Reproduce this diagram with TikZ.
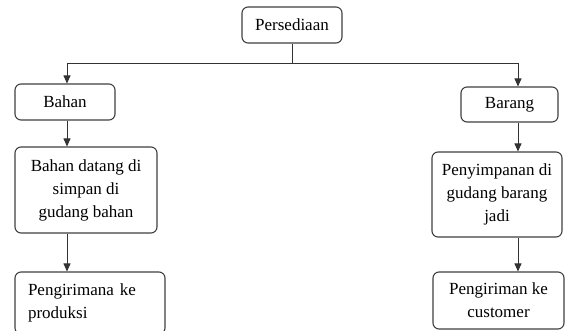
\documentclass[tikz,border=0pt]{standalone}
\usepackage{fontspec}
\setmainfont{Liberation Serif}
\usetikzlibrary{arrows.meta}
\begin{document}
\begin{tikzpicture}[x=1pt,y=-1pt,
  box/.style={draw=black!75, line width=1.1pt, rounded corners=6pt, fill=white,
    font=\fontsize{17}{23}\selectfont, inner sep=0pt},
  conn/.style={draw=black!80, line width=0.9pt},
  arr/.style={conn, -{Triangle[length=8pt,width=7pt]}}]
\clip (0,0) rectangle (565,331);
\fill[white] (0,0) rectangle (565,331);
\node[box, minimum width=100pt, minimum height=36pt] (p) at (292,25) {Persediaan};
\node[box, minimum width=100pt, minimum height=36pt] (bahan) at (65,102) {Bahan};
\node[box, minimum width=142pt, minimum height=86pt, align=center] (bd) at (86,190)
  {Bahan datang di\\simpan di\\gudang bahan};
\node[box, minimum width=150pt, minimum height=62pt, align=left, text width=124pt] (pk) at (90,303)
  {Pengirimana\hspace{6pt}ke\\produksi};
\node[box, minimum width=97pt, minimum height=35pt] (barang) at (509.5,104.5) {Barang};
\node[box, minimum width=130pt, minimum height=85pt, align=center] (ps) at (497,194.5)
  {Penyimpanan di\\gudang barang\\jadi};
\node[box, minimum width=131pt, minimum height=57pt, align=center] (pc) at (498.5,300.5)
  {Pengiriman ke\\customer};
\coordinate (j) at (292,63);
\coordinate (jl) at (67,63);
\coordinate (jr) at (518,63);
\draw[conn] (p.south) -- (j);
\draw[arr] (j) -- (jl) -- (jl |- bahan.north);
\draw[arr] (j) -- (jr) -- (jr |- barang.north);
\draw[arr] (jl |- bahan.south) -- (jl |- bd.north);
\draw[arr] (jl |- bd.south) -- (jl |- pk.north);
\draw[arr] (jr |- barang.south) -- (jr |- ps.north);
\draw[arr] (jr |- ps.south) -- (jr |- pc.north);
\end{tikzpicture}
\end{document}
